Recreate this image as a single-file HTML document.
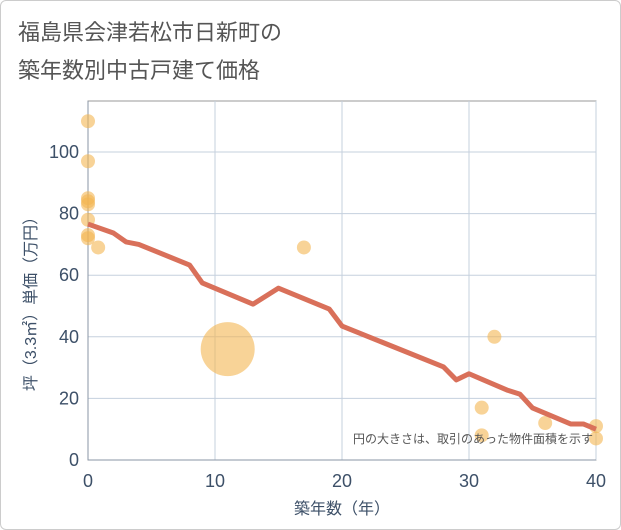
<!DOCTYPE html>
<html><head><meta charset="utf-8"><style>
body{margin:0;background:#fff;font-family:"Liberation Sans","Noto Sans CJK JP",sans-serif}
#wrap{position:relative;width:619px;height:528px;border:1px solid #ccc;border-radius:6px;overflow:hidden}
#c{position:absolute;left:-1px;top:-1px}
</style></head><body>
<div id="wrap">
<svg id="c" width="621" height="530">
<text x="18" y="40" font-size="22" fill="#555">福島県会津若松市日新町の</text>
<text x="18" y="78" font-size="22" fill="#555">築年数別中古戸建て価格</text>
<g id="grid"></g><g id="marks"></g>
<text x="593" y="443" font-size="12" fill="#555" text-anchor="end">円の大きさは、取引のあった物件面積を示す</text>
<text x="342" y="514" font-size="16" fill="#3d5068" text-anchor="middle">築年数（年）</text>
<text transform="translate(36,300) rotate(-90)" font-size="16" fill="#3d5068" text-anchor="middle">坪（3.3㎡）単価（万円）</text>
</svg></div>
<script>
const xTicks=[0,10,20,30,40];
const yTicks=[0,20,40,60,80,100];
const lineX=[0,2,3,4,8,9,13,15,19,20,28,29,30,33,34,35,38,39,40];
const lineY=[76.6,73.7,70.8,70,63.3,57.5,50.6,55.8,49,43.5,30.2,26,28,22.7,21.4,16.9,11.7,11.7,10];
const ptX=[0,0,0,0,0,0,0,0,0.8,17,11,32,31,31,36,40,40];
const ptY=[110,97,85,83,84,78,73,72,69,69,36,40,17,8,12,11,7];
const ptR=[7,7,7,7,7,7,7,7,7,7,27,7,7,7,7,7,7];
const X0=88,X1=596,Y0=460,Y1=101;
const sx=v=>X0+(v-0)/40*(X1-X0);
const sy=v=>Y0-v/100*(460-152);
const NS="http://www.w3.org/2000/svg";
const g=document.getElementById('grid'),m=document.getElementById('marks');
function mk(p,t,a){const e=document.createElementNS(NS,t);for(const k in a)e.setAttribute(k,a[k]);p.appendChild(e);return e;}
const bg=mk(g,'rect',{x:X0,y:Y1,width:X1-X0,height:Y0-Y1,fill:'#fff',stroke:'#999'});

xTicks.forEach(t=>{const l=mk(g,'line',{x1:sx(t),x2:sx(t),y1:Y1,y2:Y0,stroke:'#c5d0de'});

const tx=mk(g,'text',{x:sx(t),y:487,'font-size':18,fill:'#3d5068','text-anchor':'middle'});tx.textContent=t;
});
yTicks.forEach(t=>{const l=mk(g,'line',{x1:X0,x2:X1,y1:sy(t),y2:sy(t),stroke:'#c5d0de'});

const tx=mk(g,'text',{x:79,y:sy(t)+6,'font-size':18,fill:'#3d5068','text-anchor':'end'});tx.textContent=t;
});
mk(g,'line',{x1:X0,x2:X0,y1:Y1,y2:Y0,stroke:'#8a96a6'});
mk(g,'line',{x1:X0,x2:X1,y1:Y0,y2:Y0,stroke:'#8a96a6'});
ptX.forEach((v,i)=>{const c=mk(m,'circle',{cx:sx(v),cy:sy(ptY[i]),r:ptR[i],fill:'#f3b552','fill-opacity':0.6});
});
const p=mk(m,'polyline',{points:lineX.map((v,i)=>sx(v)+','+sy(lineY[i])).join(' '),fill:'none',stroke:'#d9705a','stroke-width':5,'stroke-linejoin':'round'});

</script></body></html>
